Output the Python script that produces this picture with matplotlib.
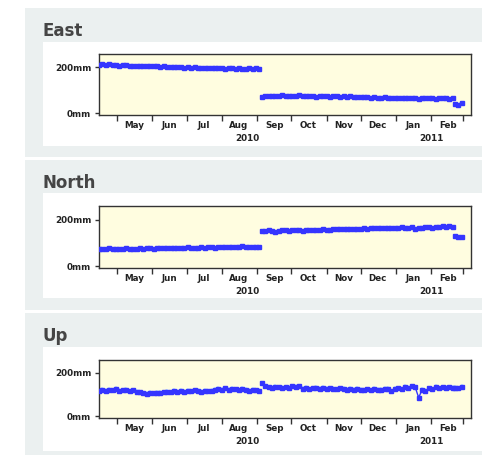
import matplotlib.pyplot as plt
import matplotlib.dates as mdates
import matplotlib.transforms as mtransforms
from matplotlib.patches import Rectangle
import pandas as pd

# sample dates: three runs of 3-day samples (gap at the early-Sep offset, and late Feb)
seg_starts = ["2010-04-15", "2010-09-05", "2011-02-22"]

east_1 = [211, 213, 209, 214, 212, 210, 207, 211, 209, 206,
          207, 208, 205, 206, 207, 204, 205, 206, 203, 204,
          202, 203, 201, 202, 200, 199, 201, 198, 200, 199,
          197, 199, 198, 197, 198, 196, 197, 195, 197, 196,
          194, 196, 195, 193, 197, 195, 196, 194]
east_2 = [72, 77, 76, 74, 77, 75, 78, 76, 74, 77,
          75, 79, 76, 74, 76, 75, 73, 75, 76, 74,
          72, 75, 74, 73, 75, 72, 74, 73, 71, 73,
          72, 70, 66, 71, 69, 68, 70, 67, 69, 68,
          66, 68, 67, 65, 67, 66, 64, 67, 66, 65,
          68, 64, 66, 65, 67, 63, 66]
east_3 = [42, 38, 44]

north_1 = [74, 76, 73, 77, 75, 74, 76, 75, 77, 76,
           74, 76, 77, 75, 78, 77, 76, 78, 79, 77,
           78, 80, 79, 78, 80, 79, 81, 80, 78, 80,
           81, 80, 82, 81, 80, 82, 83, 81, 82, 84,
           83, 81, 85, 83, 84, 82, 84, 83]
north_2 = [153, 152, 154, 151, 148, 153, 155, 154, 152, 155,
           154, 156, 153, 155, 156, 155, 157, 156, 158, 157,
           156, 158, 159, 158, 160, 159, 161, 160, 159, 161,
           162, 160, 163, 162, 164, 163, 165, 164, 163, 166,
           165, 167, 166, 165, 167, 160, 166, 162, 168, 167,
           166, 169, 170, 172, 170, 171, 169]
north_3 = [128, 124, 126]

up_1 = [118, 121, 116, 123, 119, 125, 117, 120, 122, 115,
        119, 114, 110, 106, 104, 108, 105, 109, 107, 111,
        113, 110, 116, 114, 118, 112, 117, 115, 119, 116,
        113, 118, 115, 117, 121, 126, 123, 128, 122, 126,
        124, 119, 127, 121, 118, 122, 119, 117]
up_2 = [152, 138, 134, 131, 136, 133, 130, 134, 132, 137,
        135, 138, 126, 131, 124, 128, 132, 127, 130, 125,
        129, 127, 124, 128, 126, 121, 125, 123, 127, 122,
        120, 124, 119, 126, 123, 121, 125, 127, 115, 126,
        129, 124, 135, 131, 138, 133, 86, 122, 118, 128,
        124, 136, 128, 133, 130, 134, 131]
up_3 = [132, 128, 135]
up_err = 12

titles = ["East", "North", "Up"]
series = [[east_1, east_2, east_3], [north_1, north_2, north_3], [up_1, up_2, up_3]]
ytick_vals = [0, 200]
ytick_labels = ["0mm", "200mm"]
label_months = [5, 6, 7, 8, 9, 10, 11, 12, 1, 2]
year_labels = [("2010-08-23", "2010"), ("2011-02-01", "2011")]

W, H = 482, 455
fig = plt.figure(figsize=(W / 100, H / 100), dpi=100)
fig.patch.set_facecolor("white")


def box(x0, y0, x1, y1):
    return [x0 / W, 1 - y1 / H, (x1 - x0) / W, (y1 - y0) / H]


# (grey panel, white panel, axes, title y) in pixel coords
layout = [
    ((25, 8, 482, 157), (43, 42, 482, 146), (99, 54, 471, 115), 31),
    ((25, 160, 482, 310), (43, 193, 482, 298), (99, 206, 471, 268), 183),
    ((25, 313, 482, 455), (43, 347, 482, 451), (99, 360, 471, 418), 336),
]

blue = "#3535ff"
tick_font = dict(family="DejaVu Sans", size=6.3, weight="bold")
for (grey, white, axbox, ty), title, segs in zip(layout, titles, series):
    for rect, col in [(grey, "#ebf0f0"), (white, "white")]:
        b = box(*rect)
        fig.add_artist(Rectangle((b[0], b[1]), b[2], b[3], transform=fig.transFigure,
                                 facecolor=col, edgecolor="none", zorder=0))
    fig.text(43 / W, 1 - ty / H, title, fontsize=12, fontweight="bold",
             color="#454545", va="center", ha="left", family="DejaVu Sans")

    ax = fig.add_axes(box(*axbox))
    ax.set_facecolor("#fffde0")
    for start, vals in zip(seg_starts, segs):
        dates = pd.date_range(start, periods=len(vals), freq="3D")
        if title == "Up":
            ax.errorbar(dates, vals, yerr=up_err, fmt="none", ecolor="#bfe3ff",
                        elinewidth=1.2, zorder=2)
            ax.plot(dates, vals, color=blue, lw=1.0, marker="s", ms=2.2,
                    mec=blue, zorder=3)
        else:
            ax.plot(dates, vals, color=blue, lw=1.8, marker="s", ms=2.6,
                    mec=blue, zorder=3)

    ax.set_xlim(pd.Timestamp("2010-04-15"), pd.Timestamp("2011-03-08"))
    ax.set_ylim(-7, 258)
    ax.set_yticks(ytick_vals)
    ax.set_yticklabels(ytick_labels)

    ax.xaxis.set_major_locator(mdates.MonthLocator())
    ax.xaxis.set_major_formatter(plt.NullFormatter())
    ax.xaxis.set_minor_locator(mdates.MonthLocator(bymonth=label_months, bymonthday=16))
    ax.xaxis.set_minor_formatter(mdates.DateFormatter("%b"))
    ax.tick_params(axis="x", which="major", length=4, width=1, color="#333333")
    ax.tick_params(axis="x", which="minor", length=0, pad=4.5, labelcolor="#222222")
    ax.tick_params(axis="y", length=3, width=1, pad=2.5,
                   labelcolor="#222222", color="#333333")
    for lab in ax.get_xticklabels(which="minor") + ax.get_yticklabels():
        lab.set_fontproperties(tick_font)
    for sp in ax.spines.values():
        sp.set_color("#333333")
        sp.set_linewidth(1.0)

    trans = mtransforms.blended_transform_factory(ax.transData, ax.transAxes)
    for d, lab in year_labels:
        ax.annotate(lab, xy=(mdates.date2num(pd.Timestamp(d)), 0), xycoords=trans,
                    xytext=(0, -17), textcoords="offset points", ha="center",
                    va="center", color="#222222", fontproperties=tick_font)

fig.savefig("out.png", dpi=100)
